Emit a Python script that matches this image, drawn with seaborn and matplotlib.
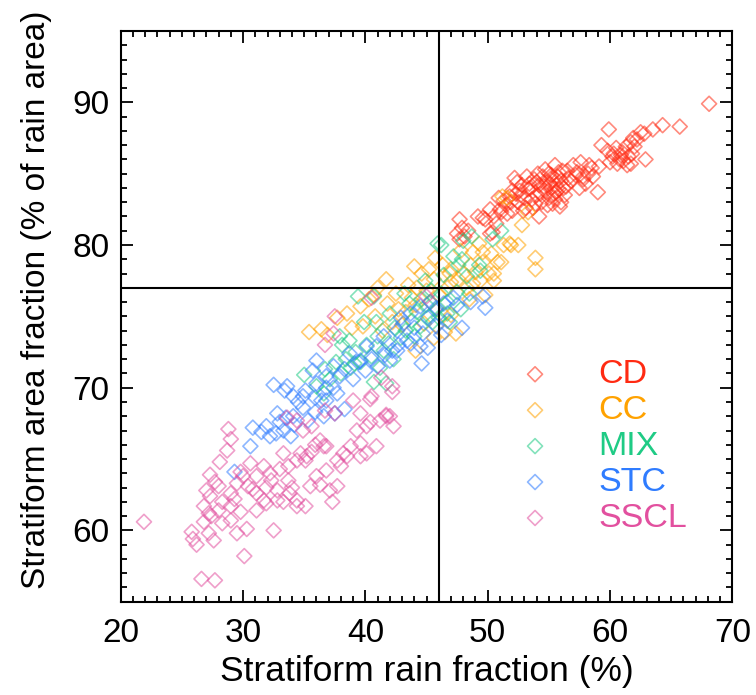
'''Stratiform area fraction vs stratiform rain fraction, by regime.'''
import matplotlib
matplotlib.use('Agg')
import matplotlib.pyplot as plt
import pandas as pd
import seaborn as sns
from matplotlib.ticker import MultipleLocator

# (stratiform rain fraction %, stratiform area fraction %)
cd_points = [
    (68.1, 89.9), (65.7, 88.3), (64.3, 88.4), (63.5, 88.1), (62.5, 87.9), (61.9, 87.5), (59.9, 88.1),
    (62.9, 86.0), (61.7, 85.7), (62.2, 87.4), (62.8, 87.8),
    (59.3, 87.0), (59.8, 86.6), (60.2, 86.2), (60.5, 86.8), (60.8, 86.0), (61.0, 86.5), (61.3, 86.9),
    (61.5, 86.2), (60.6, 85.7), (60.0, 85.8), (61.8, 86.4), (62.0, 86.9), (61.4, 85.6), (60.3, 86.4),
    (61.1, 85.9), (61.7, 87.2), (60.9, 86.3), (59.1, 85.5),
    (56.5, 85.2), (57.0, 85.6), (57.3, 85.1), (57.8, 84.6), (58.2, 85.0), (58.5, 85.4), (57.5, 84.0),
    (58.0, 84.3), (56.8, 84.5), (59.0, 83.7), (57.2, 84.9), (58.6, 84.8), (56.2, 84.0), (57.8, 84.8),
    (58.3, 85.6), (57.6, 85.8),
    (53.5, 84.0), (53.8, 84.6), (54.0, 83.5), (54.2, 84.2), (54.4, 83.0), (54.5, 84.8), (54.7, 83.8),
    (54.8, 84.4), (55.0, 85.0), (55.0, 83.3), (55.2, 84.0), (55.3, 84.6), (55.4, 83.6), (55.5, 85.6),
    (55.6, 84.2), (55.7, 84.8), (55.8, 83.9), (55.9, 82.7), (56.0, 84.5), (56.1, 85.2), (56.3, 83.5),
    (56.4, 84.1), (56.6, 84.7), (54.2, 82.0), (54.9, 82.8), (55.3, 82.9), (54.1, 85.0), (53.9, 82.9),
    (55.1, 84.3), (54.6, 84.1), (55.5, 83.2), (56.0, 83.0), (54.3, 83.6), (55.8, 85.1), (54.0, 84.4),
    (55.2, 84.9), (54.7, 85.3), (55.6, 83.7),
    (51.0, 82.5), (51.3, 83.1), (51.5, 82.8), (51.8, 83.4), (52.0, 82.4), (52.2, 84.7), (52.3, 83.6),
    (52.5, 83.0), (52.6, 83.8), (52.8, 84.2), (53.0, 83.3), (53.1, 82.6), (53.3, 83.9), (53.4, 84.3),
    (52.0, 83.8), (51.6, 82.2), (52.9, 82.4), (53.6, 83.2), (52.4, 84.4), (53.2, 84.8), (51.9, 83.0),
    (52.7, 83.5), (50.9, 83.3), (53.7, 82.6),
    (49.6, 81.9), (50.2, 82.5), (50.2, 80.8), (47.7, 81.8), (47.5, 80.8), (47.7, 80.4), (48.1, 80.6),
    (49.8, 81.8), (50.4, 80.9), (51.1, 82.3), (48.4, 81.0), (50.7, 81.5), (49.2, 82.0), (47.9, 81.2),
    (50.5, 82.0),
]
cc_points = [
    (53.9, 79.1), (53.9, 78.3), (52.8, 81.4), (51.9, 80.0), (52.5, 80.0), (51.1, 78.8), (50.8, 78.8),
    (50.5, 77.5), (50.1, 78.0), (49.6, 78.8), (49.8, 76.5), (49.0, 78.1), (48.8, 79.5), (49.6, 79.5),
    (48.6, 78.6), (48.0, 78.0), (47.0, 78.3), (47.0, 77.4), (45.7, 79.1), (46.9, 78.0), (45.6, 77.6),
    (44.6, 78.0), (44.0, 78.5), (43.5, 77.2), (41.7, 77.6), (41.0, 77.0), (40.7, 76.5), (38.5, 75.2),
    (35.4, 73.9), (36.4, 74.1), (47.4, 73.8), (46.5, 73.9), (42.7, 75.5), (43.3, 75.3), (44.1, 75.8),
    (46.4, 75.1), (47.0, 75.1), (44.1, 72.6), (39.6, 75.7), (40.3, 76.2), (41.4, 74.0), (42.2, 74.6),
    (43.0, 74.4), (45.0, 76.8), (45.3, 76.0), (44.2, 77.0), (43.8, 76.3), (42.5, 76.6), (41.8, 75.9),
    (40.8, 75.0), (39.8, 74.3), (46.0, 76.5), (46.7, 77.0), (47.6, 77.6), (48.3, 77.0), (48.5, 76.2),
    (51.3, 80.0), (49.3, 80.1), (50.3, 79.4), (47.8, 79.6), (37.7, 74.9), (36.9, 73.7), (38.9, 74.2),
    (44.8, 74.5), (45.6, 73.5), (51.2, 83.4), (51.6, 83.3), (53.3, 82.3), (50.5, 78.0), (49.4, 77.5),
    (48.8, 77.3), (51.8, 80.1), (45.2, 78.3), (46.3, 78.6),
]
mix_points = [
    (45.9, 80.1), (46.2, 80.0), (51.1, 81.0), (48.7, 80.6), (49.3, 78.6), (49.4, 78.2), (47.2, 79.2),
    (47.9, 79.0), (48.3, 77.8), (39.4, 76.4), (40.7, 76.4), (35.0, 70.9), (36.0, 70.1), (40.7, 70.4),
    (41.7, 70.3), (39.1, 71.7), (38.1, 73.0), (46.7, 76.0), (46.7, 75.2), (46.2, 76.6), (45.8, 75.5),
    (45.4, 76.8), (45.0, 75.8), (44.6, 76.2), (44.2, 75.3), (43.8, 74.7), (43.3, 74.0), (42.9, 73.5),
    (42.4, 74.2), (41.9, 73.1), (41.5, 72.6), (41.0, 73.6), (40.5, 72.2), (40.1, 73.0), (39.6, 71.8),
    (39.2, 72.5), (38.8, 71.4), (38.4, 72.0), (38.0, 71.0), (37.6, 71.8), (37.1, 70.6), (36.7, 71.3),
    (36.6, 69.6), (43.6, 75.9), (44.9, 77.5), (46.4, 77.9), (47.5, 76.7), (47.8, 75.5), (45.5, 74.6),
    (44.0, 73.6), (42.0, 75.2), (40.9, 74.6), (39.9, 74.6), (38.7, 73.3), (37.9, 73.6), (47.6, 78.6),
    (48.5, 76.6), (41.2, 71.4), (50.4, 80.4), (48.0, 80.3), (46.9, 74.6), (43.2, 76.6), (42.3, 72.0),
    (45.2, 75.0), (44.5, 74.3), (46.0, 74.9),
]
stc_points = [
    (29.3, 64.1), (30.6, 65.9), (30.8, 67.2), (31.9, 67.3), (32.5, 70.2), (33.6, 70.1), (33.0, 67.6),
    (33.5, 67.9), (34.1, 68.0), (33.9, 66.6), (32.7, 66.8), (33.3, 67.0), (34.9, 69.4), (35.9, 69.3),
    (36.8, 69.1), (34.9, 68.6), (35.9, 68.3), (36.6, 68.0), (37.5, 68.2), (38.3, 68.5), (36.0, 70.3),
    (36.8, 70.0), (37.4, 70.0), (38.3, 71.3), (39.4, 71.8), (40.5, 72.0), (41.6, 72.3), (42.2, 72.6),
    (42.7, 73.0), (44.6, 71.7), (45.1, 72.8), (47.9, 74.2), (49.8, 75.6), (46.2, 73.7), (42.6, 72.6),
    (43.4, 73.3), (42.0, 71.9), (40.9, 72.9), (41.5, 73.6), (42.6, 74.0), (43.1, 74.5), (43.7, 75.2),
    (44.5, 75.7), (45.3, 76.0), (45.8, 75.6), (46.4, 75.9), (47.2, 76.3), (47.5, 75.8), (38.7, 72.4),
    (39.6, 71.9), (40.1, 72.9), (37.4, 71.5), (37.9, 70.8), (36.8, 70.8), (36.0, 71.9), (35.7, 71.2),
    (35.1, 69.8), (34.1, 69.4), (33.4, 69.8), (36.4, 69.1), (37.7, 69.6), (48.6, 76.0), (49.6, 76.4),
    (46.7, 74.7), (45.8, 74.3), (44.7, 73.8), (43.7, 73.1), (44.5, 72.9), (31.5, 66.9), (32.2, 66.6),
    (32.8, 68.2), (34.5, 69.0), (34.2, 67.4), (35.3, 67.7), (39.0, 70.6), (40.0, 71.2), (41.0, 71.5),
    (42.9, 74.9), (44.0, 74.2), (45.1, 74.9),
]
sscl_points = [
    (21.9, 60.6), (26.6, 56.6), (27.7, 56.5), (30.1, 58.2), (25.8, 59.9), (26.2, 59.0), (27.2, 59.8),
    (26.8, 60.6), (32.5, 60.0), (28.8, 67.1), (29.0, 66.4), (28.7, 65.6), (28.1, 64.8), (27.3, 63.9),
    (27.3, 62.4), (28.0, 63.1), (28.3, 62.0), (28.0, 61.4), (29.0, 61.7), (28.3, 60.5), (27.4, 61.0),
    (29.3, 62.2), (29.8, 61.3), (30.3, 60.1), (31.1, 61.4), (31.9, 61.9), (37.3, 62.0), (35.1, 61.7),
    (34.4, 62.1), (42.3, 67.3), (42.0, 68.0), (41.2, 67.7), (40.4, 69.2), (39.0, 69.1), (42.2, 69.7),
    (39.6, 65.2), (38.5, 65.2), (38.0, 64.5), (39.6, 66.1), (36.6, 65.9), (35.1, 64.9), (33.3, 65.4),
    (34.4, 64.9), (37.7, 63.1), (37.1, 62.8), (36.3, 63.2), (33.7, 64.5), (33.7, 63.5), (31.1, 63.8),
    (31.9, 63.0), (30.0, 63.8), (30.4, 63.1), (32.8, 62.8), (32.8, 62.1), (35.9, 66.0), (36.3, 66.3),
    (36.8, 65.9), (34.7, 65.4), (35.2, 65.2), (35.6, 65.5), (34.9, 67.0), (35.6, 67.3), (33.6, 67.9),
    (34.4, 67.7), (36.7, 68.4), (37.5, 68.2), (39.3, 67.0), (40.1, 67.3), (40.4, 67.6), (41.7, 68.0),
    (31.7, 64.5), (32.2, 64.0), (30.6, 64.7), (29.8, 64.1), (31.1, 62.6), (31.7, 62.1), (33.3, 62.0),
    (33.8, 62.6), (34.4, 61.7), (35.5, 63.1), (36.0, 63.8), (36.8, 64.2), (37.7, 64.9), (38.2, 65.4),
    (38.8, 65.9), (40.1, 65.4), (40.9, 65.9), (29.0, 62.6), (29.5, 63.3), (27.7, 63.4), (27.0, 62.8),
    (26.8, 61.7), (27.2, 61.2), (29.0, 60.7), (29.5, 59.8), (27.6, 59.3), (37.5, 75.0), (37.4, 73.8),
    (36.7, 73.0), (40.5, 76.3), (45.0, 76.4), (41.3, 70.7), (42.2, 70.1), (40.5, 69.4), (39.6, 68.2),
    (41.7, 68.1), (25.9, 59.4), (30.8, 62.9), (32.3, 63.5), (34.0, 63.0), (33.0, 64.3),
]

regimes = ['CD', 'CC', 'MIX', 'STC', 'SSCL']
regime_points = [cd_points, cc_points, mix_points, stc_points, sscl_points]
regime_colors = ['#ff2a12', '#ffa200', '#1fcb85', '#2f7cff', '#e2509f']

# reference lines (mean values)
rain_frac_ref = 46
area_frac_ref = 77

frames = []
for name, pts in zip(regimes, regime_points):
    df = pd.DataFrame(pts, columns=['rain_frac', 'area_frac'])
    df['regime'] = name
    frames.append(df)
data = pd.concat(frames, ignore_index=True)

sns.set_style('ticks')
plt.rcParams['font.family'] = ['Liberation Sans', 'DejaVu Sans']
plt.rcParams['text.color'] = 'black'
plt.rcParams['axes.labelcolor'] = 'black'
plt.rcParams['xtick.color'] = 'black'
plt.rcParams['ytick.color'] = 'black'

fig = plt.figure(figsize=(7.56, 6.95), dpi=100)
ax = fig.add_axes([0.1597, 0.1342, 0.809, 0.8212])

for name, color in zip(regimes, regime_colors):
    sns.scatterplot(
        data=data[data['regime'] == name],
        x='rain_frac',
        y='area_frac',
        marker='D',
        s=58,
        facecolor='none',
        edgecolor=color,
        linewidth=1.2,
        alpha=0.55,
        label=name,
        ax=ax,
    )

ax.axvline(rain_frac_ref, color='black', lw=1.5, zorder=5)
ax.axhline(area_frac_ref, color='black', lw=1.5, zorder=5)

ax.set_xlim(20, 70)
ax.set_ylim(55, 95)
ax.xaxis.set_major_locator(MultipleLocator(10))
ax.xaxis.set_minor_locator(MultipleLocator(1))
ax.yaxis.set_minor_locator(MultipleLocator(1))
ax.set_yticks([60, 70, 80, 90])
ax.tick_params(which='both', direction='in', top=True, right=True, width=1.3, color='black')
ax.tick_params(which='major', length=8.5)
ax.tick_params(which='minor', length=4.5)
ax.tick_params(axis='x', labelsize=24, pad=12)
ax.tick_params(axis='y', labelsize=24, pad=8)
for spine in ax.spines.values():
    spine.set_linewidth(1.5)
    spine.set_color('black')

ax.set_xlabel('Stratiform rain fraction (%)', fontsize=25.5)
ax.set_ylabel('Stratiform area fraction (% of rain area)', fontsize=24)
ax.xaxis.set_label_coords(0.5, -0.093)
ax.yaxis.set_label_coords(-0.112, 0.529)

ax.legend(
    loc='upper left',
    bbox_to_anchor=(0.6496, 0.425),
    frameon=False,
    fontsize=24.5,
    handlelength=1.0,
    handletextpad=1.35,
    labelspacing=0.145,
    borderpad=0,
    borderaxespad=0,
    labelcolor=regime_colors,
)

fig.savefig('out.png', dpi=100)
